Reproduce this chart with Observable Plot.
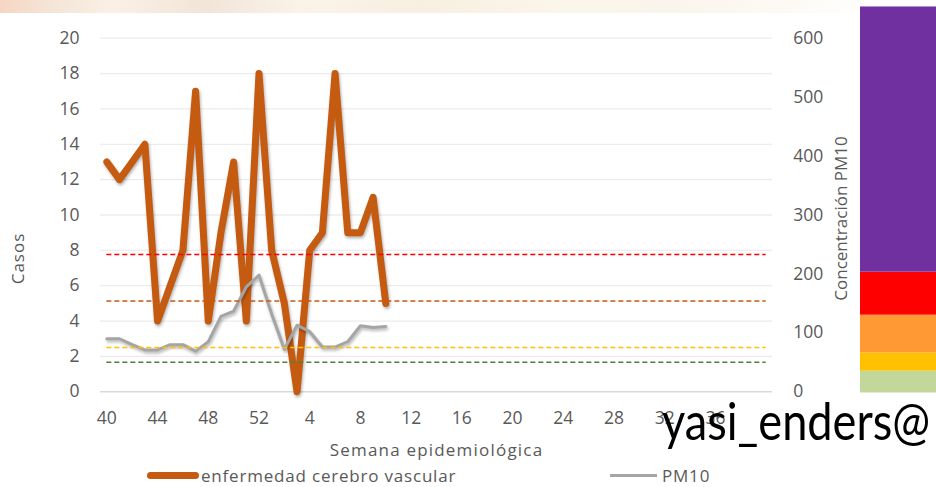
<!DOCTYPE html>
<html>
<head>
<meta charset="utf-8">
<script src="https://cdn.jsdelivr.net/npm/d3@7"></script>
<script src="https://cdn.jsdelivr.net/npm/@observablehq/plot@0.6"></script>
<style>
  body { margin: 0; background: #fff; }
  #wrap { position: relative; width: 936px; height: 487px; overflow: hidden; font-family: "Open Sans", sans-serif; }
  #strip { position: absolute; left: 0; top: 0; width: 936px; height: 13px;
    background: linear-gradient(90deg, #f6d6c2 0%, #f4e4d6 5%, #faf0e4 12%, #f2e5d8 22%, #faf3e8 32%, #f7f0e0 45%, #fbf6ea 60%, #faf5ec 72%, #fdfaf5 84%, #ffffff 94%); }
  #main { position: absolute; left: 0; top: 0; }
  #bar { position: absolute; left: 860px; top: 0; }
  #legend { position: absolute; left: 0; top: 462px; width: 936px; height: 25px; color: #595959; font-size: 17px; letter-spacing: 0.8px; }
  #legend .sw { position: absolute; }
  #legend .lb { position: absolute; top: 1px; line-height: 25px; white-space: nowrap; }
  #wm { position: absolute; left: 0; top: 0; pointer-events: none; }
</style>
</head>
<body>
<div id="wrap">
  <div id="strip"></div>
  <div id="main"></div>
  <div id="bar"></div>
  <div id="legend">
    <div class="sw" style="left:147px;top:10px;width:52px;height:7px;border-radius:3.5px;background:#C55A11;"></div>
    <div class="lb" style="left:201px;">enfermedad cerebro vascular</div>
    <div class="sw" style="left:610px;top:12px;width:47px;height:3px;background:#A5A5A5;"></div>
    <div class="lb" style="left:662px;">PM10</div>
  </div>
  <svg id="wm" width="936" height="487">
    <text x="662" y="440" font-family="Lato, sans-serif" font-size="52" fill="#000" textLength="268" lengthAdjust="spacingAndGlyphs">yasi_enders@</text>
  </svg>
</div>
<script>
// Categories: epidemiological weeks (40–52, then 1–40)
const weeks = [40,41,42,43,44,45,46,47,48,49,50,51,52,1,2,3,4,5,6,7,8,9,10,11,12,13,14,15,16,17,18,19,20,21,22,23,24,25,26,27,28,29,30,31,32,33,34,35,36,37,38,39,40];
// Series: cases (left axis)
const casos = [13,12,13,14,4,6,8,17,4,9,13,4,18,8,5,0,8,9,18,9,9,11,5];
// Series: PM10 concentration (right axis)
const pm10 = [90,90,80,71,71,80,80,69,85,128,137,178,198,132,72,113,102,76,76,85,112,109,111];
// Axis ticks
const leftTicks = [0,2,4,6,8,10,12,14,16,18,20];
const rightTicks = [0,100,200,300,400,500,600];
const xTickIndex = [0,4,8,12,16,20,24,28,32,36,40,44,48];
// Threshold dashed lines (PM10 units)
const thresholds = [233,154,75,50];
const thresholdColors = ["#FF0000","#C55A11","#FFC000","#548235"];
// Colour bar bands (PM10 units)
const bandBreaks = [-2,35,66,130,203,653];
const bandColors = ["#C4D79B","#FFC000","#FF9933","#FF0000","#7030A0"];

const ratio = 600 / 20;
const rows = casos.map((c, i) => ({i, casos: c, pm10: pm10[i]}));

const H = 462, MT = 37.7, MB = 70.7;

const main = Plot.plot({
  width: 936, height: H,
  marginTop: MT, marginBottom: MB, marginLeft: 100, marginRight: 164,
  style: {fontFamily: "'Open Sans', sans-serif", fontSize: "17.5px", color: "#595959", background: "transparent", overflow: "visible"},
  x: {type: "linear", domain: [-0.5, weeks.length - 0.5]},
  y: {domain: [0, 20]},
  marks: [
    Plot.ruleY(leftTicks.slice(1), {stroke: "#ececec", strokeWidth: 1.3}),
    Plot.ruleY([0], {stroke: "#d9d9d9", strokeWidth: 1.5}),
    Plot.axisY(leftTicks, {anchor: "left", tickSize: 0, tickPadding: 21, label: null}),
    Plot.axisY(rightTicks.map(v => v / ratio), {anchor: "right", tickSize: 0, tickPadding: 20.7, tickFormat: d => Math.round(d * ratio), label: null}),
    Plot.axisX(xTickIndex, {anchor: "bottom", tickSize: 0, tickPadding: 19.7, tickFormat: i => weeks[i], label: null}),
    Plot.line(rows, {x: "i", y: "casos", stroke: "#C55A11", strokeWidth: 7, strokeLinejoin: "round", strokeLinecap: "round"}),
    Plot.line(rows, {x: "i", y: d => d.pm10 / ratio, stroke: "#A5A5A5", strokeWidth: 3, strokeLinejoin: "round", strokeLinecap: "round"}),
    ...thresholds.map((t, k) => Plot.ruleY([t], {y: d => d / ratio, x1: 0, x2: weeks.length - 1, stroke: thresholdColors[k], strokeWidth: 1.5, strokeDasharray: "5,3"})),
    Plot.text(["Semana epidemiológica"], {text: d => d, frameAnchor: "bottom", dy: 58.7, textAnchor: "middle", lineAnchor: "middle", fontSize: 17}),
    Plot.text(["Casos"], {text: d => d, frameAnchor: "left", rotate: -90, dx: -81.5, dy: 43.5, textAnchor: "middle", lineAnchor: "middle", fontSize: 17}),
    Plot.text(["Concentración PM10"], {text: d => d, frameAnchor: "right", rotate: -90, dx: 69, dy: 3.5, textAnchor: "middle", lineAnchor: "middle", fontSize: 17})
  ]
});
d3.select(main).selectAll('g[aria-label="line"]').style("filter", "drop-shadow(1px 2px 1.5px rgba(0,0,0,0.3))");
d3.select(main).selectAll('g[aria-label="text"] text')
  .filter(function () { return this.textContent === "Semana epidemiológica"; })
  .style("letter-spacing", "1.2px");
d3.select(main).selectAll('g[aria-label="text"] text')
  .filter(function () { return this.textContent === "Casos"; })
  .style("letter-spacing", "1px");
document.getElementById("main").appendChild(main);

const bands = bandColors.map((c, i) => ({y1: bandBreaks[i], y2: bandBreaks[i + 1], c}));
const bar = Plot.plot({
  width: 76, height: H,
  marginTop: MT, marginBottom: MB, marginLeft: 0, marginRight: 0,
  style: {background: "transparent", overflow: "visible"},
  y: {domain: [0, 600], axis: null},
  color: {type: "identity"},
  marks: [
    Plot.rect(bands, {y1: "y1", y2: "y2", fill: "c"})
  ]
});
document.getElementById("bar").appendChild(bar);
</script>
</body>
</html>
